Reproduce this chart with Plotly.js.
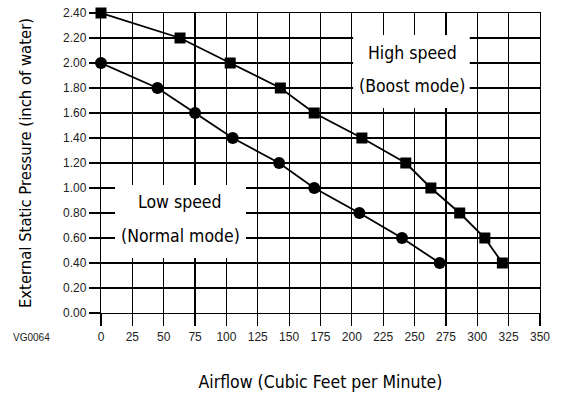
<!DOCTYPE html>
<html>
<head>
<meta charset="utf-8">
<script src="https://cdn.plot.ly/plotly-3.0.1.min.js"></script>
<style>html,body{margin:0;padding:0;background:#fff;}#chart{width:565px;height:404px;}</style>
</head>
<body>
<div id="chart"></div>
<script>
// High speed (Boost mode)
const highAirflow = [0, 63, 103, 143, 170, 208, 243, 263, 286, 306, 320];
const highPressure = [2.40, 2.20, 2.00, 1.80, 1.60, 1.40, 1.20, 1.00, 0.80, 0.60, 0.40];
// Low speed (Normal mode)
const lowAirflow = [0, 45, 75, 105, 142, 170, 206, 240, 270];
const lowPressure = [2.00, 1.80, 1.60, 1.40, 1.20, 1.00, 0.80, 0.60, 0.40];

const xTicks = [0, 25, 50, 75, 100, 125, 150, 175, 200, 225, 250, 275, 300, 325, 350];
const yTicks = [0, 0.2, 0.4, 0.6, 0.8, 1.0, 1.2, 1.4, 1.6, 1.8, 2.0, 2.2, 2.4];

const narrow = "DejaVu Sans Condensed, Liberation Sans Narrow, sans-serif";
const arial = "Liberation Sans, Arial, sans-serif";

const traces = [
  {x: highAirflow, y: highPressure, name: "High speed (Boost mode)", mode: "lines+markers", cliponaxis: false,
   line: {color: "#000", width: 1.8}, marker: {symbol: "square", size: 11, color: "#000"}},
  {x: lowAirflow, y: lowPressure, name: "Low speed (Normal mode)", mode: "lines+markers", cliponaxis: false,
   line: {color: "#000", width: 1.8}, marker: {symbol: "circle", size: 12, color: "#000"}}
];

const labelFont = {family: narrow, size: 17.5, color: "#000"};

const layout = {
  width: 565, height: 404,
  margin: {l: 101, r: 25, t: 13, b: 91},
  paper_bgcolor: "#fff", plot_bgcolor: "#fff",
  showlegend: false,
  xaxis: {
    range: [0, 350], tickvals: xTicks, ticktext: xTicks.map(String),
    showgrid: true, gridcolor: "#000", gridwidth: 1.2,
    zeroline: false, showline: true, mirror: true, linecolor: "#000", linewidth: 1.2,
    ticks: "outside", ticklen: 12, tickwidth: 1.2, tickcolor: "#000",
    tickfont: {family: arial, size: 12, color: "#222"},
    title: {text: "Airflow (Cubic Feet per Minute)", font: {family: narrow, size: 17.5, color: "#000"}, standoff: 33},
    automargin: false, fixedrange: true
  },
  yaxis: {
    range: [0, 2.4], tickvals: yTicks, ticktext: yTicks.map(v => v.toFixed(2)),
    showgrid: true, gridcolor: "#000", gridwidth: 1.2,
    zeroline: true, zerolinecolor: "#000", zerolinewidth: 2.5,
    showline: true, mirror: true, linecolor: "#000", linewidth: 1.2,
    ticks: "outside", ticklen: 11, tickwidth: 1.2, tickcolor: "#000",
    tickfont: {family: arial, size: 12, color: "#222"},
    title: {text: "External Static Pressure (inch of water)", font: {family: narrow, size: 16.5, color: "#000"}, standoff: 27},
    automargin: false, fixedrange: true
  },
  shapes: [
    {type: "rect", xref: "x", yref: "y", x0: 201, x1: 294, y0: 1.64, y1: 2.224,
     fillcolor: "#fff", line: {width: 0}, layer: "between"},
    {type: "rect", xref: "x", yref: "y", x0: 11.2, x1: 115.6, y0: 0.44, y1: 1.024,
     fillcolor: "#fff", line: {width: 0}, layer: "between"}
  ],
  annotations: [
    {xref: "x", yref: "y", x: 248, y: 2.08, text: "High speed", showarrow: false, font: labelFont},
    {xref: "x", yref: "y", x: 248, y: 1.816, text: "(Boost mode)", showarrow: false, font: labelFont},
    {xref: "x", yref: "y", x: 63, y: 0.888, text: "Low speed", showarrow: false, font: labelFont},
    {xref: "x", yref: "y", x: 63, y: 0.616, text: "(Normal mode)", showarrow: false, font: labelFont},
    {xref: "paper", yref: "paper", x: -0.159, y: -0.083, xanchor: "center", yanchor: "middle",
     text: "VG0064", showarrow: false, font: {family: arial, size: 10, color: "#222"}}
  ]
};

Plotly.newPlot("chart", traces, layout, {displayModeBar: false, staticPlot: true});
</script>
</body>
</html>
